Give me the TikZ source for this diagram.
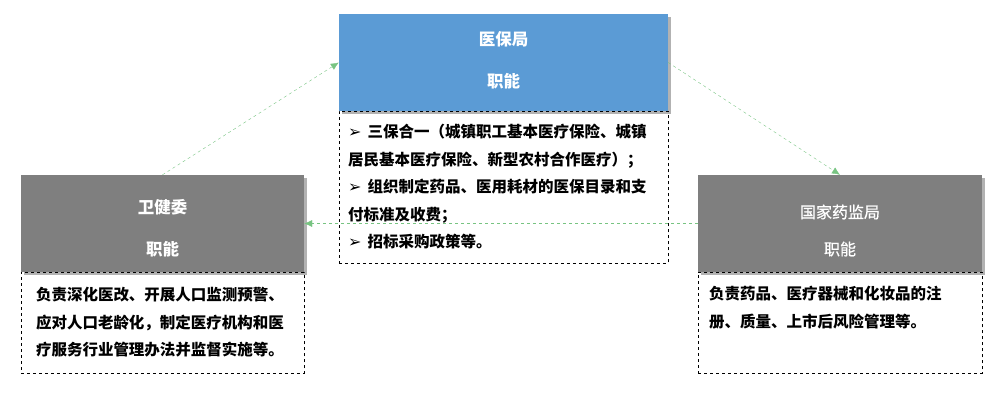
\documentclass[tikz,border=0pt]{standalone}
\usepackage{fontspec}
\setmainfont{Noto Sans CJK SC}
\newfontfamily\symfont{DejaVu Sans}
\newfontfamily\midfont{Noto Sans CJK SC}[FakeBold=0.8]
\usetikzlibrary{arrows.meta,shadows,positioning}
\definecolor{ybblue}{RGB}{91,155,213}
\definecolor{boxgray}{RGB}{127,127,127}
\definecolor{linkgreen}{RGB}{120,196,130}
\newcommand{\bul}{{\symfont\fontsize{16}{16}\selectfont ➢}\hspace{0.4em}}

\begin{document}
\begin{tikzpicture}[x=1pt, y=-1pt, >={Latex[length=8pt,width=7pt]}]
		\useasboundingbox (0,0) rectangle (1005,407);
		\tikzset{
			head/.style = {minimum height=97pt, inner sep=0pt,
				drop shadow={shadow xshift=2.5pt, shadow yshift=-2.5pt, opacity=.3, fill=black}},
			title/.style = {inner sep=0pt, text=white, align=center,
				font=\fontsize{16.5}{42}\selectfont\bfseries},
			duty/.style = {draw, dashed, thin, inner sep=0pt},
			body/.style = {anchor=north west, inner sep=0pt, align=left,
				font=\fontsize{15.5}{27.5}\selectfont\bfseries},
			link/.style = {->, dashed, thin, linkgreen}
		}

		% agencies
		\node[head, fill=ybblue, minimum width=329pt] (ybj) at (503.5, 62.5) {};
		\node[head, fill=boxgray, minimum width=283pt] (wjw) at (162.5, 223.5) {};
		\node[head, fill=boxgray, minimum width=284pt] (yjj) at (840, 223.5) {};

		\node[title] (ybjn) at ([yshift=2.5pt]ybj.center) {医保局\\职能};
		\node[title] (wjwn) at ([yshift=-5pt]wjw.center) {卫健委\\职能};
		\node[title, font=\fontsize{16}{37}\selectfont\midfont] (yjjn) at ([yshift=-7pt]yjj.center) {国家药监局\\职能};

		% duties
		\node[duty, minimum width=329pt, minimum height=152pt, below=0pt of ybj] (ybjd) {};
		\node[duty, minimum width=283pt, minimum height=101pt, below=0pt of wjw] (wjwd) {};
		\node[duty, minimum width=284pt, minimum height=101pt, below=0pt of yjj] (yjjd) {};

		\node[body] (ybjt) at ([xshift=9pt, yshift=-13pt]ybjd.north west)
			{\bul 三保合一（城镇职工基本医疗保险、城镇\\居民基本医疗保险、新型农村合作医疗）；\\
			 \bul 组织制定药品、医用耗材的医保目录和支\\付标准及收费；\\
			 \bul 招标采购政策等。};
		\node[body] (wjwt) at ([xshift=15pt, yshift=-15pt]wjwd.north west)
			{负责深化医改、开展人口监测预警、\\应对人口老龄化，制定医疗机构和医\\疗服务行业管理办法并监督实施等。};
		\node[body] (yjjt) at ([xshift=11pt, yshift=-14pt]yjjd.north west)
			{负责药品、医疗器械和化妆品的注\\册、质量、上市后风险管理等。};

		% links
		\draw[link] (wjw.north) -- (ybj.west);
		\draw[link] (ybj.east) -- (yjj.north);
		\draw[link] (yjj.west) -- (wjw.east);
\end{tikzpicture}
\end{document}
